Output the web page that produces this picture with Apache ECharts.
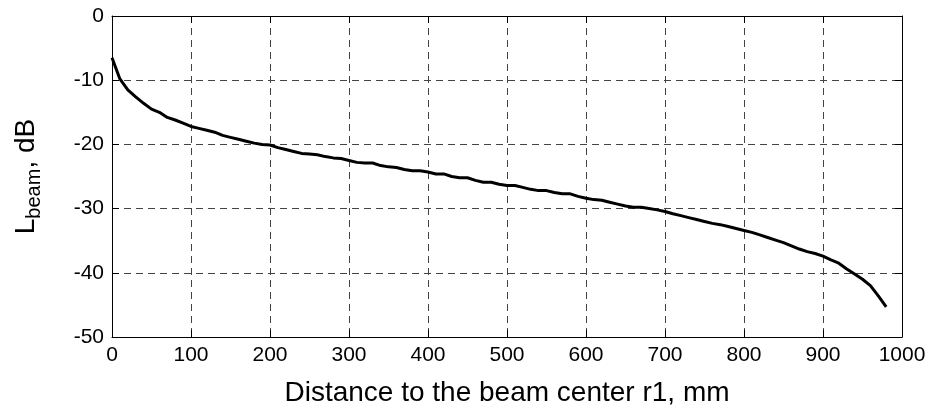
<!DOCTYPE html>
<html>
<head>
<meta charset="utf-8">
<script src="https://cdn.jsdelivr.net/npm/echarts@6/dist/echarts.min.js"></script>
<style>
  html, body { margin: 0; padding: 0; background: #fff; }
  #chart { width: 935px; height: 416px; }
</style>
</head>
<body>
<div id="chart"></div>
<script>
// Distance from the beam centre, mm (10 mm step)
const distanceMm = [
  0, 10, 20, 30, 40, 50, 60, 70, 80, 90,
  100, 110, 120, 130, 140, 150, 160, 170, 180, 190,
  200, 210, 220, 230, 240, 250, 260, 270, 280, 290,
  300, 310, 320, 330, 340, 350, 360, 370, 380, 390,
  400, 410, 420, 430, 440, 450, 460, 470, 480, 490,
  500, 510, 520, 530, 540, 550, 560, 570, 580, 590,
  600, 610, 620, 630, 640, 650, 660, 670, 680, 690,
  700, 710, 720, 730, 740, 750, 760, 770, 780, 790,
  800, 810, 820, 830, 840, 850, 860, 870, 880, 890,
  900, 910, 920, 930, 940, 950, 960, 970, 980
];

// Beam level, dB
const beamLevelDb = [
  -6.5, -9.8, -11.5, -12.6, -13.6, -14.5, -15.0, -15.8, -16.2, -16.7,
  -17.2, -17.5, -17.8, -18.1, -18.6, -18.9, -19.2, -19.5, -19.8, -20.0,
  -20.1, -20.5, -20.8, -21.1, -21.4, -21.5, -21.6, -21.9, -22.1, -22.2,
  -22.5, -22.8, -22.9, -22.9, -23.3, -23.5, -23.6, -23.9, -24.1, -24.1,
  -24.3, -24.6, -24.6, -25.0, -25.2, -25.2, -25.6, -25.9, -25.9, -26.2,
  -26.4, -26.4, -26.7, -27.0, -27.2, -27.2, -27.5, -27.7, -27.7, -28.1,
  -28.4, -28.6, -28.7, -29.0, -29.3, -29.6, -29.8, -29.8, -30.0, -30.2,
  -30.45, -30.8, -31.1, -31.4, -31.7, -32.0, -32.3, -32.5, -32.8, -33.1,
  -33.4, -33.7, -34.1, -34.5, -34.9, -35.3, -35.8, -36.3, -36.7, -37.0,
  -37.4, -38.0, -38.5, -39.4, -40.2, -41.0, -42.0, -43.6, -45.3
];

// Axis ranges and tick spacing
const xRange = [0, 1000];
const xStep = 100;
const yRange = [-50, 0];
const yStep = 10;

const FONT = '"Liberation Sans", Arial, sans-serif';

const chart = echarts.init(document.getElementById('chart'), null, { renderer: 'canvas' });

const gridDash = { color: '#444', width: 1, type: [7, 5] };
const frame = { show: true, onZero: false, lineStyle: { color: '#000', width: 1 } };
const inTicks = { show: true, inside: true, length: 7, lineStyle: { color: '#000', width: 1 } };
const plainNumber = v => String(v);

chart.setOption({
  animation: false,
  backgroundColor: '#fff',
  grid: { left: 107, right: 33, top: 16, bottom: 79, containLabel: false },
  xAxis: [
    {
      type: 'value',
      min: xRange[0], max: xRange[1], interval: xStep,
      position: 'bottom',
      axisLine: frame,
      axisTick: inTicks,
      axisLabel: { color: '#000', fontSize: 21, fontFamily: FONT, margin: 8, formatter: plainNumber },
      splitLine: { show: true, lineStyle: gridDash },
      name: 'Distance to the beam center r1, mm',
      nameLocation: 'middle',
      nameGap: 42,
      nameTextStyle: { color: '#000', fontSize: 28, fontFamily: FONT }
    },
    {
      type: 'value',
      min: xRange[0], max: xRange[1], interval: xStep,
      position: 'top',
      axisLine: frame,
      axisTick: inTicks,
      axisLabel: { show: false },
      splitLine: { show: false }
    }
  ],
  yAxis: [
    {
      type: 'value',
      min: yRange[0], max: yRange[1], interval: yStep,
      position: 'left',
      axisLine: frame,
      axisTick: inTicks,
      axisLabel: { color: '#000', fontSize: 21, fontFamily: FONT, margin: 8, formatter: plainNumber },
      splitLine: { show: true, lineStyle: gridDash },
      name: '{m|L}{s|beam}{m|, dB}',
      nameLocation: 'middle',
      nameRotate: 90,
      nameGap: 66,
      nameTextStyle: {
        color: '#000', fontFamily: FONT,
        rich: {
          m: { fontSize: 28, fontFamily: FONT, color: '#000', lineHeight: 40, verticalAlign: 'middle' },
          s: { fontSize: 20, fontFamily: FONT, color: '#000', lineHeight: 40, verticalAlign: 'middle', padding: [16, 0, 0, 0] }
        }
      }
    },
    {
      type: 'value',
      min: yRange[0], max: yRange[1], interval: yStep,
      position: 'right',
      axisLine: frame,
      axisTick: inTicks,
      axisLabel: { show: false },
      splitLine: { show: false }
    }
  ],
  series: [
    {
      type: 'line',
      data: distanceMm.map((d, i) => [d, beamLevelDb[i]]),
      showSymbol: false,
      smooth: false,
      lineStyle: { color: '#000', width: 3 },
      z: 5
    }
  ]
});
</script>
</body>
</html>
